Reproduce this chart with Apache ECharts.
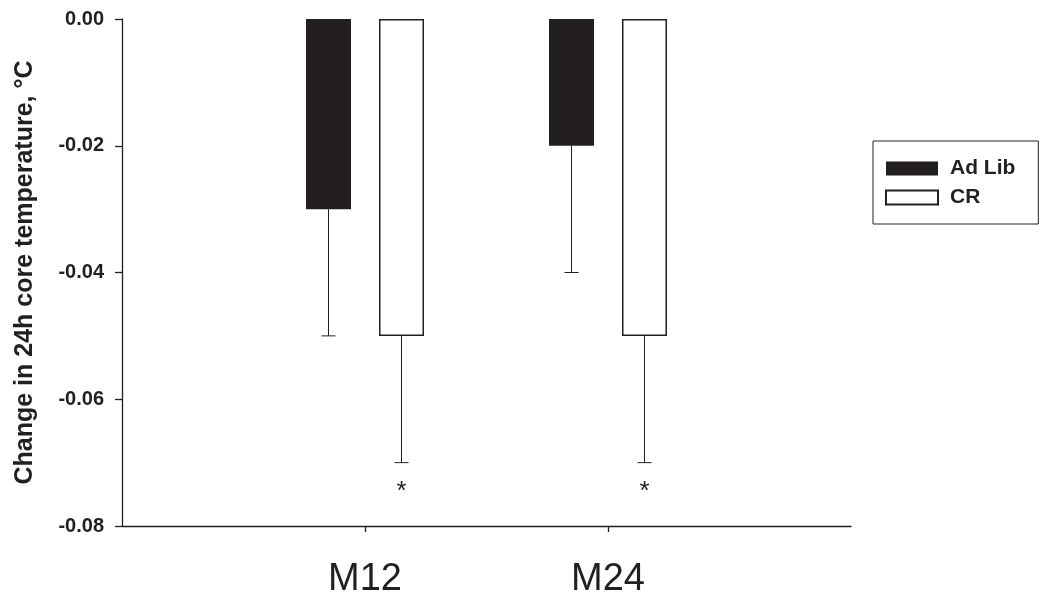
<!DOCTYPE html>
<html>
<head>
<meta charset="utf-8">
<style>
  html, body { margin: 0; padding: 0; background: #ffffff; }
  #chart { width: 1042px; height: 599px; }
</style>
<script src="https://cdn.jsdelivr.net/npm/echarts@6/dist/echarts.min.js"></script>
</head>
<body>
<div id="chart"></div>
<script>
// Time points
const categories = ['M12', 'M24'];

// Mean change in 24h core temperature (°C) and one-sided error
const adLibValues = [-0.03, -0.02];
const adLibErrors = [0.02, 0.02];
const crValues = [-0.05, -0.05];
const crErrors = [0.02, 0.02];

// Significance markers drawn under the CR error bars
const crMarks = ['*', '*'];

// Y axis ticks
const yTicks = [0.00, -0.02, -0.04, -0.06, -0.08];

const INK = '#231f20';
const FONT = '"Liberation Sans", Arial, Helvetica, sans-serif';
const BAR_W = 45;
const BAR_GAP = 28;
const HALF_STEP = (BAR_W + BAR_GAP) / 2;

// Category axis padded with an empty slot on each side so the two
// time points sit at one third and two thirds of the axis
const axisCategories = [''].concat(categories, ['']);

function errorBars(name, values, errors, side, marks) {
  return {
    type: 'custom',
    name: name + ' error',
    z: 1,
    silent: true,
    data: categories.map((c, i) => [c, values[i], errors[i], marks ? marks[i] : '']),
    renderItem(params, api) {
      const top = api.coord([api.value(0), api.value(1)]);
      const bottom = api.coord([api.value(0), api.value(1) - api.value(2)]);
      const x = top[0] + side * HALF_STEP;
      const children = [
        {
          type: 'line',
          shape: { x1: x, y1: top[1], x2: x, y2: bottom[1] },
          style: { stroke: INK, lineWidth: 1 }
        },
        {
          type: 'line',
          shape: { x1: x - 7, y1: bottom[1], x2: x + 7, y2: bottom[1] },
          style: { stroke: INK, lineWidth: 1 }
        }
      ];
      const mark = marks ? marks[params.dataIndex] : '';
      if (mark) {
        children.push({
          type: 'text',
          style: {
            text: mark,
            x: x,
            y: bottom[1] + 16,
            align: 'center',
            verticalAlign: 'top',
            font: '26px ' + FONT,
            fill: INK
          }
        });
      }
      return { type: 'group', children };
    }
  };
}

const chart = echarts.init(document.getElementById('chart'), null, { renderer: 'canvas' });

chart.setOption({
  animation: false,
  backgroundColor: '#ffffff',
  textStyle: { fontFamily: FONT, color: INK },
  grid: { left: 122, right: 191, top: 19, bottom: 71, containLabel: false },
  legend: {
    orient: 'vertical',
    left: 873,
    top: 141,
    data: ['Ad Lib', 'CR'],
    icon: 'rect',
    itemWidth: 52,
    itemHeight: 14,
    itemGap: 8,
    padding: [17, 23, 16, 12],
    borderColor: INK,
    borderWidth: 1,
    selectedMode: false,
    textStyle: {
      fontFamily: FONT,
      fontSize: 21,
      lineHeight: 20,
      fontWeight: 'bold',
      color: INK,
      padding: [0, 0, 0, 7]
    }
  },
  xAxis: {
    type: 'category',
    data: axisCategories,
    boundaryGap: false,
    axisLine: { onZero: false, lineStyle: { color: INK, width: 1.3 } },
    axisTick: {
      show: true,
      length: 6,
      interval: (index, value) => value !== '',
      lineStyle: { color: INK, width: 1.3 }
    },
    axisLabel: {
      interval: 0,
      margin: 35,
      fontFamily: FONT,
      fontSize: 38,
      color: INK
    },
    splitLine: { show: false }
  },
  yAxis: {
    type: 'value',
    min: yTicks[yTicks.length - 1],
    max: yTicks[0],
    interval: 0.02,
    name: 'Change in 24h core temperature, °C',
    nameLocation: 'middle',
    nameGap: 84,
    nameRotate: 90,
    nameTextStyle: {
      fontFamily: FONT,
      fontSize: 25,
      fontWeight: 'bold',
      color: INK
    },
    axisLine: { show: true, lineStyle: { color: INK, width: 1.3 } },
    axisTick: { show: true, length: 7, lineStyle: { color: INK, width: 1.3 } },
    axisLabel: {
      margin: 18,
      fontFamily: FONT,
      fontSize: 20,
      fontWeight: 'bold',
      color: INK,
      formatter: v => v.toFixed(2)
    },
    splitLine: { show: false }
  },
  series: [
    {
      type: 'bar',
      name: 'Ad Lib',
      z: 2,
      barWidth: BAR_W,
      barGap: (BAR_GAP / BAR_W * 100) + '%',
      data: categories.map((c, i) => [c, adLibValues[i]]),
      itemStyle: { color: INK, borderColor: INK, borderWidth: 0 }
    },
    {
      type: 'bar',
      name: 'CR',
      z: 2,
      barWidth: BAR_W,
      barGap: (BAR_GAP / BAR_W * 100) + '%',
      data: categories.map((c, i) => [c, crValues[i]]),
      itemStyle: { color: '#ffffff', borderColor: INK, borderWidth: 1.5 }
    },
    errorBars('Ad Lib', adLibValues, adLibErrors, -1, null),
    errorBars('CR', crValues, crErrors, 1, crMarks)
  ]
});
</script>
</body>
</html>
